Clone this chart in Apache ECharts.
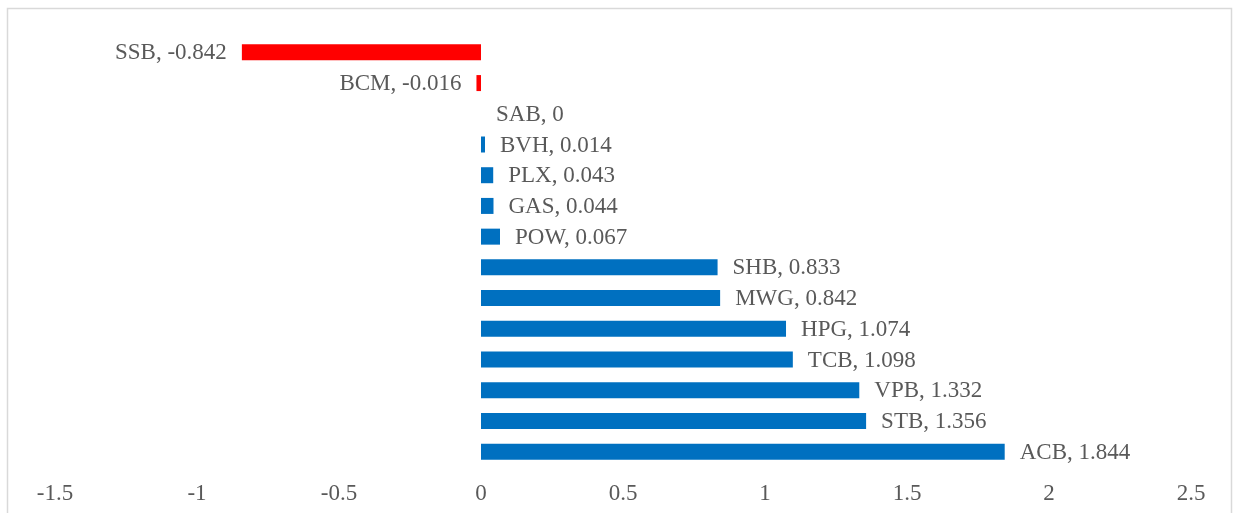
<!DOCTYPE html>
<html>
<head>
<meta charset="utf-8">
<script src="https://cdn.jsdelivr.net/npm/echarts@6/dist/echarts.min.js"></script>
<style>
  html, body { margin: 0; padding: 0; background: #fff; }
  #chart { width: 1234px; height: 513px; }
</style>
</head>
<body>
<div id="chart"></div>
<script>
// stock codes, top to bottom
var codes = ['SSB', 'BCM', 'SAB', 'BVH', 'PLX', 'GAS', 'POW', 'SHB', 'MWG', 'HPG', 'TCB', 'VPB', 'STB', 'ACB']
var changes = [-0.842, -0.016, 0, 0.014, 0.043, 0.044, 0.067, 0.833, 0.842, 1.074, 1.098, 1.332, 1.356, 1.844]
var xTicks = [-1.5, 2.5, 0.5] // min, max, step

var font = 'Liberation Serif'
var chart = echarts.init(document.getElementById('chart'))

chart.setOption({
  animation: false,
  backgroundColor: '#fff',
  graphic: [{
    type: 'rect',
    shape: { x: 7.5, y: 8.5, width: 1224, height: 520 },
    style: { fill: 'none', stroke: '#d9d9d9', lineWidth: 1.5 },
    silent: true
  }],
  grid: { left: 55, right: 43, top: 37, bottom: 46 },
  xAxis: {
    type: 'value',
    min: xTicks[0],
    max: xTicks[1],
    interval: xTicks[2],
    axisLine: { show: false },
    axisTick: { show: false },
    splitLine: { show: false },
    axisLabel: {
      color: '#595959',
      fontFamily: font,
      fontSize: 23,
      margin: 15,
      showMinLabel: true,
      showMaxLabel: true
    }
  },
  yAxis: {
    type: 'category',
    data: codes,
    inverse: true,
    axisLine: { show: false },
    axisTick: { show: false },
    axisLabel: { show: false },
    splitLine: { show: false }
  },
  series: [{
    type: 'bar',
    barWidth: 16,
    data: changes.map(function (v) {
      return {
        value: v,
        itemStyle: { color: v < 0 ? '#ff0000' : '#0070c0' },
        label: { position: v < 0 ? 'left' : 'right' }
      }
    }),
    label: {
      show: true,
      distance: 15,
      offset: [0, 1],
      color: '#595959',
      fontFamily: font,
      fontSize: 23,
      formatter: function (p) { return p.name + ', ' + p.value }
    }
  }]
})
</script>
</body>
</html>
